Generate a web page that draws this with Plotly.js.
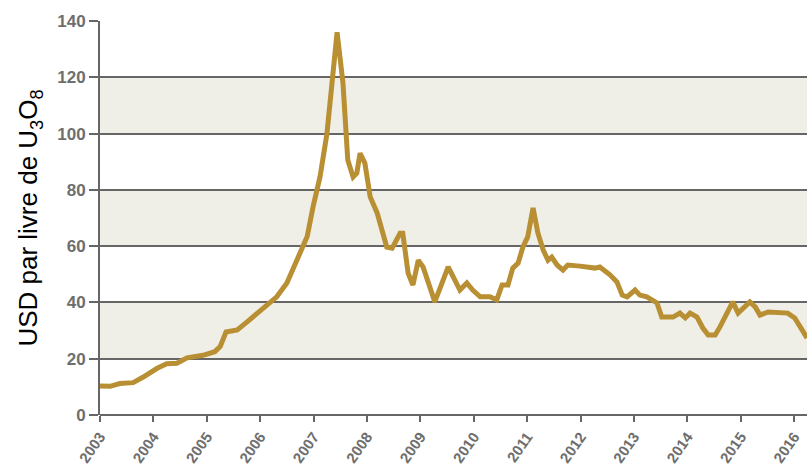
<!DOCTYPE html>
<html>
<head>
<meta charset="utf-8">
<script src="https://cdn.plot.ly/plotly-3.0.1.min.js"></script>
<style>html,body{margin:0;padding:0;background:#fff;}#chart{width:807px;height:468px;}</style>
</head>
<body>
<div id="chart"></div>
<script>
// Uranium spot price, USD per lb U3O8
const years = [2003.00,2003.19,2003.37,2003.62,2003.81,2004.07,2004.25,2004.44,2004.63,2004.93,
  2005.15,2005.25,2005.36,2005.57,2005.75,2005.94,2006.13,2006.31,2006.50,2006.69,
  2006.88,2006.99,2007.12,2007.25,2007.34,2007.44,2007.55,2007.64,2007.74,2007.81,
  2007.87,2007.96,2008.06,2008.19,2008.37,2008.47,2008.62,2008.67,2008.77,2008.86,
  2008.96,2009.05,2009.27,2009.37,2009.52,2009.74,2009.87,2009.98,2010.12,2010.30,
  2010.43,2010.53,2010.64,2010.73,2010.83,2010.92,2011.01,2011.11,2011.20,2011.30,
  2011.39,2011.46,2011.56,2011.67,2011.76,2011.99,2012.27,2012.36,2012.55,2012.68,
  2012.78,2012.87,2013.02,2013.11,2013.24,2013.43,2013.52,2013.73,2013.86,2013.96,
  2014.05,2014.18,2014.29,2014.39,2014.52,2014.61,2014.74,2014.85,2014.95,2015.17,
  2015.27,2015.36,2015.51,2015.73,2015.88,2016.01,2016.11,2016.24];
const prices = [10.3,10.2,11.2,11.5,13.5,16.6,18.2,18.4,20.3,21.2,
  22.5,24.3,29.5,30.2,33,36.2,39,42,46.9,55,
  63.4,74,84.6,100,118,136,118,90.6,84.6,86,
  93,89.5,77.5,71.8,59.7,59.3,64.6,64.6,50.4,46.2,
  55,52.6,40.2,45.5,52.6,44.4,46.9,44.4,42,42,
  40.9,46.2,46.2,52.2,54,59.7,63.3,73.6,64.7,58.6,
  55,56.1,53.3,51.5,53.3,52.9,52.2,52.6,49.8,47.3,
  42.6,42,44.4,42.6,42,39.8,34.8,34.8,36.2,34.5,
  36.2,34.8,30.9,28.4,28.4,31.3,36.2,40.2,36.2,40.2,
  38.4,35.5,36.6,36.6,36.2,34.5,31.3,27.4];
const tickYears = [2003,2004,2005,2006,2007,2008,2009,2010,2011,2012,2013,2014,2015,2016];
const tickLabels = ['2003','2004','2005','2006','2007','2008','2009','2010','2011','2012','2013','2014','2015','2016'];
const yTicks = [0,20,40,60,80,100,120,140];
const bands = [[20,40],[60,80],[100,120]];

const shapes = bands.map(b => ({
  type:'rect', xref:'paper', yref:'y', x0:0, x1:1, y0:b[0], y1:b[1],
  fillcolor:'#efeee7', line:{width:0}, layer:'below'
}));

const fam = '"Liberation Sans",Arial,sans-serif';
const yFont = {family:fam, size:17, color:'#6e6e6e', weight:'bold'};
const xFont = {family:fam, size:15, color:'#6e6e6e', weight:'bold'};

Plotly.newPlot('chart', [{
  x: years, y: prices, type:'scatter', mode:'lines',
  line:{color:'#b88f32', width:5}, hoverinfo:'skip'
}], {
  width:807, height:468,
  margin:{l:100, r:0, t:21, b:53, pad:0},
  paper_bgcolor:'#ffffff', plot_bgcolor:'#ffffff',
  showlegend:false,
  shapes: shapes,
  xaxis:{
    range:[2003, 2016.24], tickvals:tickYears, ticktext:tickLabels,
    tickangle:-55, tickfont:xFont, ticks:'outside', ticklen:6, tickwidth:2, tickcolor:'#666',
    showgrid:false, zeroline:false, showline:false, fixedrange:true
  },
  yaxis:{
    range:[0,140], tickvals:yTicks, tickfont:yFont,
    ticks:'outside', ticklen:9, tickwidth:2, tickcolor:'#666',
    showgrid:true, gridcolor:'#666', gridwidth:2,
    zeroline:true, zerolinecolor:'#666', zerolinewidth:2,
    showline:true, linecolor:'#666', linewidth:2,
    title:{text:'USD par livre de U<sub>3</sub>O<sub>8</sub>', font:{family:fam, size:26, color:'#000'}, standoff:12},
    automargin:false, fixedrange:true
  }
}, {displayModeBar:false, staticPlot:true});
</script>
</body>
</html>
